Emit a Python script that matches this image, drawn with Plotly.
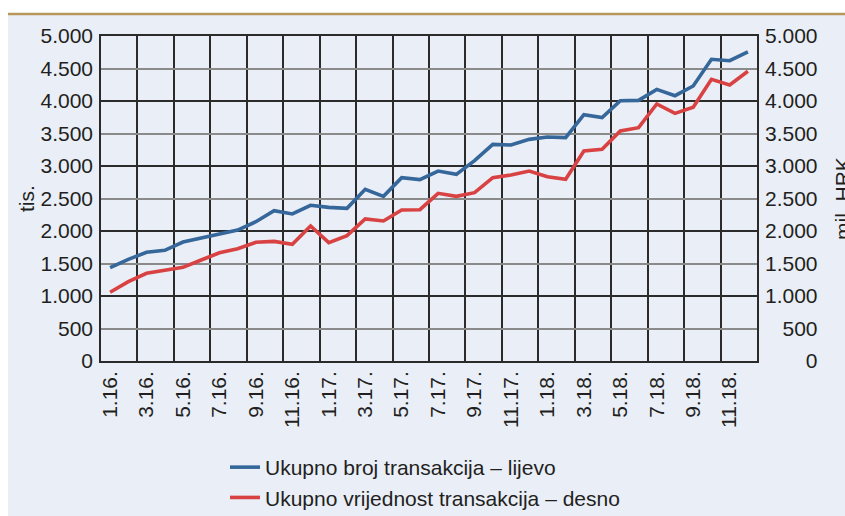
import plotly.graph_objects as go

# ---- data ----
months = [f"{m}.{y}." for y in (16, 17, 18) for m in range(1, 13)]
broj_transakcija = [1436, 1564, 1672, 1703, 1831, 1897, 1954, 2015, 2143, 2313,
                    2262, 2395, 2364, 2349, 2641, 2533, 2821, 2790, 2923, 2872,
                    3082, 3333, 3323, 3410, 3446, 3436, 3790, 3744, 4005, 4010,
                    4179, 4082, 4231, 4641, 4620, 4754]
vrijednost_transakcija = [1057, 1220, 1349, 1400, 1441, 1554, 1666, 1728, 1826, 1840,
                          1795, 2077, 1821, 1928, 2185, 2154, 2323, 2328, 2580, 2533,
                          2590, 2821, 2862, 2923, 2836, 2795, 3231, 3257, 3538, 3590,
                          3954, 3810, 3903, 4334, 4246, 4457]
y_ticks = [0, 500, 1000, 1500, 2000, 2500, 3000, 3500, 4000, 4500, 5000]
y_tick_labels = ["0", "500", "1.000", "1.500", "2.000", "2.500", "3.000",
                 "3.500", "4.000", "4.500", "5.000"]
major_ticks = [0, 1000, 2000, 3000, 4000, 5000]
name_left = "Ukupno broj transakcija – lijevo"
name_right = "Ukupno vrijednost transakcija – desno"
title_left = "tis."
title_right = "mil. HRK"

# right-aligned labels for the right axis: pad with figure/punctuation spaces
widest = max(y_tick_labels, key=len)
def pad(lbl):
    missing = widest[: len(widest) - len(lbl)]
    return "".join("\u2008" if c == "." else "\u2007" for c in missing) + lbl
y_tick_labels_right = [pad(l) for l in y_tick_labels]

FONT = "Liberation Sans, Arial, sans-serif"
FS = 21
BLUE = "#35679a"
RED = "#d94242"
DARK = "#2b2b2b"
GREY = "#8a8a8a"
PANEL = "#e9eef7"
GOLD = "#b8965a"
TEXT = "#231f20"

W, H = 845, 516
ML, MR, MT, MB = 101, 88, 36, 155
pw, ph = W - ML - MR, H - MT - MB

def px_x(x):
    return (x - ML) / pw

def px_y(y):
    return (MT + ph - y) / ph

fig = go.Figure()
fig.add_trace(go.Scatter(x=months, y=broj_transakcija, name=name_left, mode="lines",
                         line=dict(color=BLUE, width=3.6), legendgroup="a"))
fig.add_trace(go.Scatter(x=months, y=vrijednost_transakcija, name=name_right, mode="lines",
                         line=dict(color=RED, width=3.6), yaxis="y2", legendgroup="b"))
fig.add_trace(go.Scatter(x=months, y=broj_transakcija, yaxis="y3", mode="lines",
                         line=dict(color="rgba(0,0,0,0)", width=0), showlegend=False,
                         hoverinfo="skip"))

fig.update_layout(
    width=W, height=H,
    margin=dict(l=ML, r=MR, t=MT, b=MB, autoexpand=False),
    paper_bgcolor="white", plot_bgcolor="rgba(0,0,0,0)",
    font=dict(family=FONT, size=FS, color=TEXT),
    showlegend=True,
    legend=dict(x=px_x(225), y=px_y(447), xanchor="left", yanchor="top",
                bgcolor="rgba(0,0,0,0)", font=dict(size=FS), tracegroupgap=0,
                traceorder="grouped"),
    xaxis=dict(type="category", range=[-0.5, len(months) - 0.5],
               tickmode="linear", tick0=0, dtick=2, tickson="boundaries",
               tickangle=-90, showgrid=True, gridcolor=DARK, gridwidth=1.5,
               showline=True, linecolor=DARK, linewidth=1.5, mirror=True,
               ticks="", ticklabelstandoff=0),
    yaxis=dict(range=[0, 5000], tickmode="array", tickvals=y_ticks, ticktext=y_tick_labels,
               showgrid=True, gridcolor=GREY, gridwidth=2, zeroline=False,
               showline=True, linecolor=DARK, linewidth=1.5, mirror=True,
               ticks="", ticklabelstandoff=2),
    yaxis2=dict(range=[0, 5000], overlaying="y", side="right", tickmode="array",
                tickvals=y_ticks, ticktext=y_tick_labels_right, showgrid=False,
                zeroline=False, showline=False, ticks="", ticklabelstandoff=7),
    yaxis3=dict(range=[0, 5000], overlaying="y", side="left", tickmode="array",
                tickvals=major_ticks, showticklabels=False, showgrid=True,
                gridcolor=DARK, gridwidth=1.5, zeroline=False, showline=False, ticks=""),
    annotations=[
        dict(text=title_left, textangle=-90, xref="paper", yref="paper",
             x=px_x(13), y=0.5, xanchor="left", yanchor="middle", showarrow=False,
             font=dict(size=FS, color=TEXT)),
        dict(text=title_right, textangle=-90, xref="paper", yref="paper",
             x=px_x(829), y=0.5, xanchor="left", yanchor="middle", showarrow=False,
             font=dict(size=FS, color=TEXT)),
    ],
    shapes=[
        dict(type="rect", xref="paper", yref="paper", layer="below",
             x0=px_x(8), x1=px_x(W + 2), y0=px_y(H + 2), y1=px_y(14),
             fillcolor=PANEL, line=dict(width=0)),
        dict(type="line", xref="paper", yref="paper", layer="below",
             x0=px_x(8), x1=px_x(W + 2), y0=px_y(14), y1=px_y(14),
             line=dict(color=GOLD, width=2.5)),
    ],
)

fig.write_html(
    "out.html",
    config={"displayModeBar": False},
    post_script="document.body.style.margin='0';document.body.style.overflow='hidden';",
)
